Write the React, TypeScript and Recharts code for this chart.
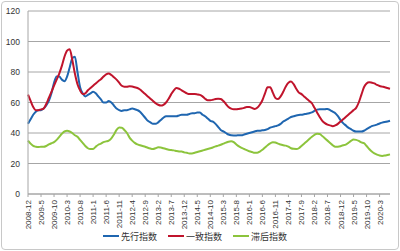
import React from 'react';
import { LineChart, Line, XAxis, YAxis, CartesianGrid, Legend } from 'recharts';

const startYear = 2008;
const startMonth = 12;

const leading = [
  46, 49, 52, 54, 55, 55, 56, 58, 61, 66, 73, 77, 77, 75, 74, 77, 83, 89, 90, 80,
  70, 66, 64, 65, 66, 67, 66, 64, 62, 60, 60, 61, 60, 58, 56, 55, 54.5, 55, 55, 55.5,
  56, 55.6, 55, 54, 52, 50, 48, 47, 46, 46, 47, 48.5, 50, 51, 51, 51, 51, 51, 51.5, 52,
  52, 52, 52.5, 53, 53, 53.5, 53.4, 52, 51, 49.5, 48, 47.4, 46, 44, 42, 41, 40, 39, 38.5, 38.4,
  38.4, 38.5, 38.5, 39, 39.5, 40, 40.5, 41, 41.4, 41.5, 41.8, 42, 42.5, 43.5, 44, 44.5, 45, 46, 47.5, 48.5,
  49.5, 50.5, 51, 51.5, 51.8, 52, 52.3, 52.6, 53, 53.5, 54.5, 55.3, 55.6, 55.6, 55.6, 55.8, 55, 54, 53, 51,
  48.5, 46.5, 45, 43.5, 42.5, 41.5, 41, 41, 41, 41.5, 42.5, 43.5, 44.5, 45, 45.5, 46.2, 46.8, 47.2, 47.5, 48,
];

const coincident = [
  65.2, 61, 57, 55, 55, 55.5, 56, 59, 63, 67, 71, 75, 79, 84, 90, 94, 95, 88, 79, 72,
  68, 65.5, 66, 68, 69.5, 71, 72.5, 74, 75.3, 77, 78.5, 79, 78, 76.5, 75, 73, 71, 70.4, 70.4, 70.6,
  70.5, 70, 69.5, 68.5, 67, 65.5, 64, 62.5, 61, 59.5, 58.5, 58, 58.5, 60, 62.5, 65.5, 68, 69.5, 69, 68,
  67, 66, 65.5, 65.5, 65.5, 65.3, 65, 64, 62.5, 61.5, 61.5, 61.8, 62.3, 62.5, 62.3, 61, 59, 57, 56, 55.6,
  55.6, 55.8, 56, 56.5, 57, 57, 56.5, 55.8, 56.5, 58.5, 61.5, 66, 70, 70, 66.5, 63, 62.3, 64, 67, 70.5,
  73, 73.7, 72, 69, 66.5, 65.5, 64, 62.5, 61, 59.5, 56.5, 53.5, 50.5, 48, 46.5, 45.5, 45, 44.5, 45, 46,
  47.5, 49, 50.5, 52, 53.5, 55, 56.5, 60, 65, 70, 72.5, 73.3, 73, 72.5, 71.5, 70.8, 70.4, 70, 69.5, 69,
];

const lagging = [
  35, 33, 31.5, 31, 30.8, 31, 31, 31.5, 32.5, 33.3, 34, 35.5, 37.5, 39.5, 41, 41.4, 41, 40, 38.5, 37.5,
  35.5, 33.5, 31.5, 30, 29.5, 29.5, 31, 32.3, 33, 34, 34.5, 35, 36.5, 39, 42, 43.6, 43.5, 42, 40, 37,
  35, 33.5, 32.5, 32, 31.5, 31, 30.3, 29.8, 29.5, 30, 30.6, 30.5, 30, 29.5, 29, 28.8, 28.6, 28.2, 27.9, 27.8,
  27.3, 27, 26.6, 26.6, 27, 27.5, 28, 28.5, 29, 29.5, 30, 30.5, 31.2, 31.7, 32.3, 33, 33.7, 34.3, 34.6, 34,
  32.5, 31.2, 30.2, 29.5, 28.8, 28, 27.5, 27, 27, 27.8, 29, 30.5, 32, 33.2, 34, 33.8, 33, 32.5, 32, 31.7,
  31, 30, 29.6, 29.5, 30, 31.5, 33, 34.5, 36, 37.5, 38.8, 39.5, 39.3, 38, 36.5, 35, 33.5, 32, 31, 31,
  31.3, 32, 32.4, 33.5, 34.8, 35.7, 35.5, 34.8, 33.8, 33.3, 31.5, 29.5, 27.8, 26.6, 25.8, 25.2, 25, 25.2, 25.6, 26,
];

const yTicks = [0, 20, 40, 60, 80, 100, 120];
const seriesNames = ['先行指数', '一致指数', '滞后指数'];
const seriesKeys = ['lead', 'coin', 'lag'];
const seriesColors = ['#1f66b0', '#c0142c', '#8cc43c'];

const months = leading.map((_, i) => {
  const total = startMonth - 1 + i;
  const y = startYear + Math.floor(total / 12);
  const m = (total % 12) + 1;
  return `${y}-${m}`;
});

const data = months.map((m, i) => ({
  month: m,
  lead: leading[i],
  coin: coincident[i],
  lag: lagging[i],
}));

const XTick = (props: any) => {
  const { x, y, payload } = props;
  return (
    <g transform={`translate(${x + 3},${y + 1})`}>
      <text
        transform="rotate(-90)"
        textAnchor="end"
        fontSize={8}
        fill="#333"
        fontFamily="'Liberation Sans', Arial, sans-serif"
      >
        {payload.value}
      </text>
    </g>
  );
};

const LegendContent = () => (
  <div
    style={{
      display: 'flex',
      justifyContent: 'center',
      alignItems: 'center',
      fontSize: 9,
      fontFamily: "'Noto Sans CJK SC', sans-serif",
      color: '#333',
      height: 14,
    }}
  >
    {seriesNames.map((n, i) => (
      <div key={n} style={{ display: 'flex', alignItems: 'center', marginRight: i < 2 ? 11 : 0 }}>
        <div style={{ width: 16, height: 2, background: seriesColors[i], marginRight: 2 }} />
        <span>{n}</span>
      </div>
    ))}
  </div>
);

export default function App() {
  return (
    <div
      style={{
        position: 'absolute',
        left: 0,
        top: 0,
        width: 400,
        height: 251,
        background: '#fff',
      }}
    >
      <div
        style={{
          position: 'absolute',
          left: 1,
          top: 1,
          width: 396,
          height: 247,
          border: '1px solid #c8c8c8',
          borderRadius: 4,
        }}
      />
      <LineChart
        width={400}
        height={251}
        data={data}
        margin={{ top: 11, right: 10, left: 0, bottom: 7 }}
      >
        <CartesianGrid vertical={false} stroke="#a6a6a6" strokeWidth={1} />
        <XAxis
          dataKey="month"
          interval={4}
          height={36}
          tick={<XTick />}
          tickLine={{ stroke: '#a6a6a6' }}
          tickSize={3}
          axisLine={{ stroke: '#a6a6a6' }}
        />
        <YAxis
          width={28}
          domain={[0, 120]}
          ticks={yTicks}
          tick={{ fontSize: 8.5, fill: '#333', fontFamily: "'Liberation Sans', Arial, sans-serif" }}
          tickLine={false}
          axisLine={{ stroke: '#a6a6a6' }}
        />
        <Legend
          verticalAlign="bottom"
          height={14}
          content={<LegendContent />}
          wrapperStyle={{ bottom: 8 }}
        />
        {seriesKeys.map((k, i) => (
          <Line
            key={k}
            type="monotone"
            dataKey={k}
            name={seriesNames[i]}
            stroke={seriesColors[i]}
            strokeWidth={2}
            dot={false}
            isAnimationActive={false}
          />
        ))}
      </LineChart>
    </div>
  );
}
